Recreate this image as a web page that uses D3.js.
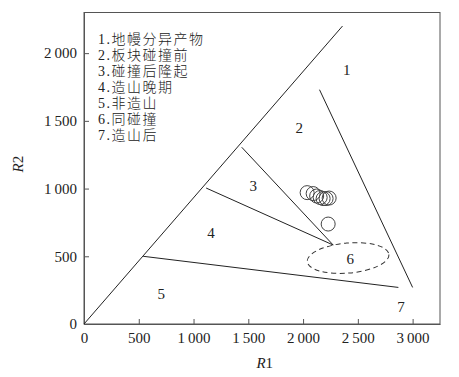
<!DOCTYPE html>
<html lang="zh">
<head>
<meta charset="UTF-8">
<title>R1-R2</title>
<script src="https://cdn.jsdelivr.net/npm/d3@7"></script>
<style>
  body { margin: 0; background: #fff; }
</style>
</head>
<body>
<script>
// field boundary lines [x1, y1, x2, y2] in R1/R2 units
var boundaries = [
    [0, 0, 2360, 2200],
    [2150, 1730, 3000, 270],
    [1440, 1305, 2275, 583],
    [1115, 1004, 2275, 583],
    [540, 500, 2870, 270]
];

// field numbers
var fieldNames = ["1", "2", "3", "4", "5", "6", "7"];
var fieldX = [2398, 1964, 1545, 1159, 705, 2430, 2895];
var fieldY = [1875, 1449, 1018, 674, 221, 485, 128];

// syn-collision ellipse: cx, cy, rx, ry (data units), tilt in degrees
var ellipse6 = [2411, 487, 374, 111, -5];

// samples
var sampleR1 = [2037, 2092, 2124, 2156, 2183, 2210, 2238, 2229];
var sampleR2 = [970, 963, 945, 934, 926, 926, 930, 738];

var legendItems = ["1.地幔分异产物", "2.板块碰撞前", "3.碰撞后隆起", "4.造山晚期",
    "5.非造山", "6.同碰撞", "7.造山后"];

var xTicks = [0, 500, 1000, 1500, 2000, 2500, 3000];
var yTicks = [0, 500, 1000, 1500, 2000];

var SERIF = "'Liberation Serif', 'DejaVu Serif', serif";
var CJK = "'Liberation Serif', 'Noto Sans CJK SC', sans-serif";

var width = 459, height = 377;
var margin = {top: 12.5, right: 19, bottom: 53, left: 84};

var svg = d3.select("body").append("svg")
    .attr("width", width)
    .attr("height", height);

var x = d3.scaleLinear().domain([0, 3250]).range([margin.left, width - margin.right]);
var y = d3.scaleLinear().domain([0, 2300]).range([height - margin.bottom, margin.top]);

var fmt = function (d) {
    return d >= 1000 ? Math.floor(d / 1000) + "\u2009" + d3.format("03d")(d % 1000) : String(d);
};

// frame
svg.append("rect")
    .attr("x", x(0)).attr("y", y(2300))
    .attr("width", x(3250) - x(0)).attr("height", y(0) - y(2300))
    .attr("fill", "none").attr("stroke", "#555").attr("stroke-width", 1);

var xAxis = svg.append("g")
    .attr("transform", "translate(0," + y(0) + ")")
    .call(d3.axisBottom(x).tickValues(xTicks).tickFormat(fmt).tickSizeInner(-5).tickSizeOuter(0).tickPadding(8));
var yAxis = svg.append("g")
    .attr("transform", "translate(" + x(0) + ",0)")
    .call(d3.axisLeft(y).tickValues(yTicks).tickFormat(fmt).tickSizeInner(-5).tickSizeOuter(0).tickPadding(7));

[xAxis, yAxis].forEach(function (g) {
    g.attr("font-family", null).attr("font-size", null);
    g.select(".domain").attr("stroke", "#555");
    g.selectAll(".tick line").attr("stroke", "#555");
    g.selectAll(".tick text")
        .style("font-family", SERIF)
        .style("font-size", "15px")
        .attr("fill", "#222");
});

// boundaries
svg.append("g").selectAll("line")
    .data(boundaries)
    .enter().append("line")
    .attr("x1", function (d) { return x(d[0]); })
    .attr("y1", function (d) { return y(d[1]); })
    .attr("x2", function (d) { return x(d[2]); })
    .attr("y2", function (d) { return y(d[3]); })
    .attr("stroke", "#222")
    .attr("stroke-width", 1);

// ellipse for field 6
svg.append("ellipse")
    .attr("cx", 0).attr("cy", 0)
    .attr("rx", x(ellipse6[2]) - x(0))
    .attr("ry", y(0) - y(ellipse6[3]))
    .attr("transform", "translate(" + x(ellipse6[0]) + "," + y(ellipse6[1]) + ") rotate(" + ellipse6[4] + ")")
    .attr("fill", "none")
    .attr("stroke", "#333")
    .attr("stroke-width", 1)
    .attr("stroke-dasharray", "5,3.5");

// field numbers
svg.append("g").selectAll("text")
    .data(fieldNames)
    .enter().append("text")
    .attr("x", function (d, i) { return x(fieldX[i]); })
    .attr("y", function (d, i) { return y(fieldY[i]); })
    .attr("dy", "0.35em")
    .attr("text-anchor", "middle")
    .style("font-family", SERIF)
    .style("font-size", "15px")
    .attr("fill", "#222")
    .text(function (d) { return d; });

// samples
svg.append("g").selectAll("circle")
    .data(sampleR1)
    .enter().append("circle")
    .attr("cx", function (d) { return x(d); })
    .attr("cy", function (d, i) { return y(sampleR2[i]); })
    .attr("r", 7)
    .attr("fill", "none")
    .attr("stroke", "#444")
    .attr("stroke-width", 1);

// legend
svg.append("g").selectAll("text")
    .data(legendItems)
    .enter().append("text")
    .attr("x", 98)
    .attr("y", function (d, i) { return 44 + i * 16; })
    .style("font-family", CJK)
    .style("font-size", "14px")
    .style("font-weight", 300)
    .attr("letter-spacing", 1.5)
    .attr("fill", "#222")
    .text(function (d) { return d; });

// axis titles
var xt = svg.append("text")
    .attr("x", x(1650)).attr("y", 368)
    .attr("text-anchor", "middle")
    .style("font-family", SERIF)
    .style("font-size", "15px")
    .attr("fill", "#222");
xt.append("tspan").style("font-style", "italic").text("R");
xt.append("tspan").text("1");

var yt = svg.append("text")
    .attr("transform", "translate(23," + y(1180) + ") rotate(-90)")
    .attr("text-anchor", "middle")
    .style("font-family", SERIF)
    .style("font-size", "15px")
    .attr("fill", "#222");
yt.append("tspan").style("font-style", "italic").text("R");
yt.append("tspan").text("2");
</script>
</body>
</html>
